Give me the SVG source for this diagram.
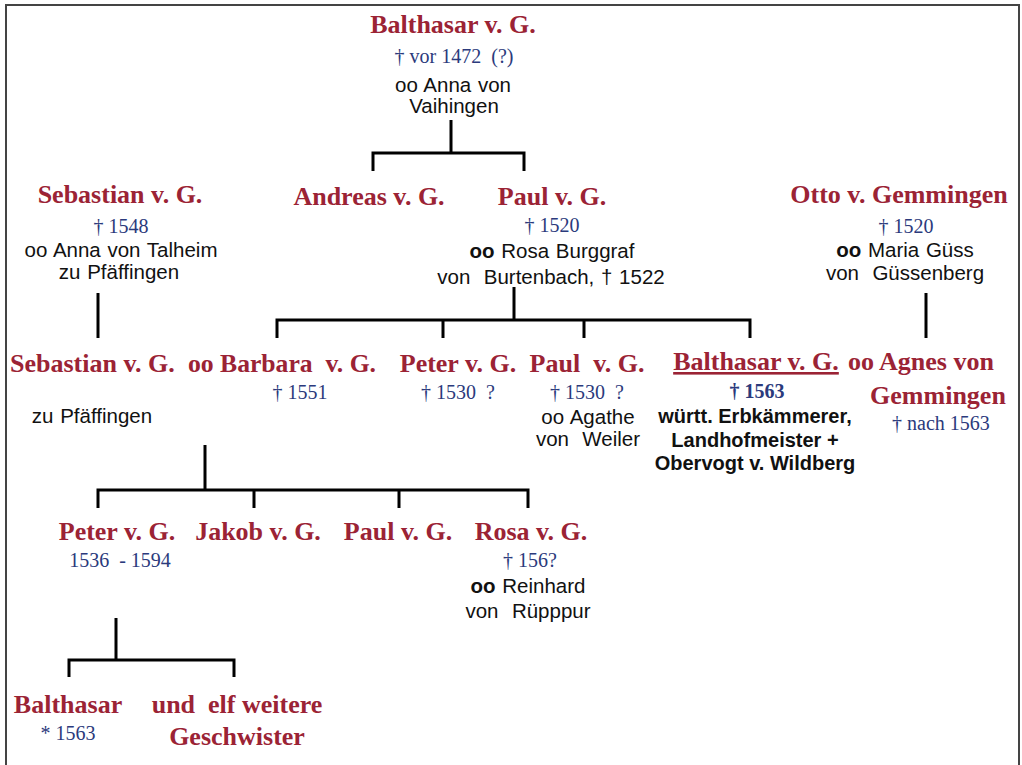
<svg xmlns="http://www.w3.org/2000/svg" width="1022" height="765" viewBox="0 0 1022 765">
<style>
.n{font-family:"Liberation Serif","Times New Roman",serif;font-weight:bold;font-size:26px;fill:#9b2335;text-anchor:middle}
.d{font-family:"Liberation Serif","Times New Roman",serif;font-size:20px;fill:#2b3a7c;text-anchor:middle}
.t{font-family:"Liberation Sans",Arial,sans-serif;font-size:20.5px;fill:#111;text-anchor:middle;word-spacing:1px}
.b{font-family:"Liberation Sans",Arial,sans-serif;font-size:20px;font-weight:bold;fill:#111;text-anchor:middle}
.c{fill:none;stroke:#000;stroke-width:3}
</style>
<rect width="1022" height="765" fill="#fff"/>
<path d="M6,765 V5 H1019 V765" fill="none" stroke="#444" stroke-width="2"/>
<g id="connectors">
<path class="c" d="M451,120 V153 M373,171 V153 H524 V171"/>
<path class="c" d="M98,293 V338"/>
<path class="c" d="M926,293 V338"/>
<path class="c" d="M514,287 V320 M277,338 V320 H750 V338 M443,320 V338 M584,320 V338"/>
<path class="c" d="M205,445 V490 M98,508 V490 H528 V508 M254,490 V508 M399,490 V508"/>
<path class="c" d="M116,618 V660 M69,677 V660 H234 V677"/>
</g>
<g id="balthasar-sen">
<text class="n" x="453" y="33">Balthasar v. G.</text>
<text class="d" x="454" y="63" xml:space="preserve">† vor 1472  (?)</text>
<text class="t" x="453" y="92">oo Anna von</text>
<text class="t" x="454" y="113">Vaihingen</text>
</g>
<g id="sebastian-sen">
<text class="n" x="120" y="203">Sebastian v. G.</text>
<text class="d" x="121" y="233">† 1548</text>
<text class="t" x="121" y="257">oo Anna von Talheim</text>
<text class="t" x="119" y="279">zu Pfäffingen</text>
</g>
<g id="andreas">
<text class="n" x="369" y="205">Andreas v. G.</text>
</g>
<g id="paul-sen">
<text class="n" x="552" y="205">Paul v. G.</text>
<text class="d" x="552" y="232">† 1520</text>
<text class="t" x="552" y="258"><tspan font-weight="bold">oo</tspan> Rosa Burggraf</text>
<text class="t" x="551" y="284" xml:space="preserve">von  Burtenbach, † 1522</text>
</g>
<g id="otto">
<text class="n" x="899" y="203">Otto v. Gemmingen</text>
<text class="d" x="906" y="233">† 1520</text>
<text class="t" x="905" y="257"><tspan font-weight="bold">oo</tspan> Maria Güss</text>
<text class="t" x="905" y="280" xml:space="preserve">von  Güssenberg</text>
</g>
<g id="sebastian">
<text class="n" x="10" y="372" style="text-anchor:start">Sebastian v. G.</text>
<text class="t" x="92" y="423">zu Pfäffingen</text>
</g>
<g id="barbara">
<text class="n" x="188" y="372" style="text-anchor:start" textLength="188" lengthAdjust="spacingAndGlyphs" xml:space="preserve">oo Barbara  v. G.</text>
<text class="d" x="300" y="399">† 1551</text>
</g>
<g id="peter-1">
<text class="n" x="458" y="372">Peter v. G.</text>
<text class="d" x="458" y="399" xml:space="preserve">† 1530  ?</text>
</g>
<g id="paul-1">
<text class="n" x="587" y="372" xml:space="preserve">Paul  v. G.</text>
<text class="d" x="587" y="399" xml:space="preserve">† 1530  ?</text>
<text class="t" x="588" y="424">oo Agathe</text>
<text class="t" x="588" y="446" xml:space="preserve">von  Weiler</text>
</g>
<g id="balthasar">
<text class="n" x="756" y="370" text-decoration="underline">Balthasar v. G.</text>
<text class="d" x="757" y="398" font-weight="bold">† 1563</text>
<text class="b" x="755" y="423">württ. Erbkämmerer,</text>
<text class="b" x="755" y="447">Landhofmeister +</text>
<text class="b" x="755" y="470">Obervogt v. Wildberg</text>
</g>
<g id="agnes">
<text class="n" x="921" y="370">oo Agnes von</text>
<text class="n" x="938" y="404">Gemmingen</text>
<text class="d" x="941" y="430">† nach 1563</text>
</g>
<g id="peter">
<text class="n" x="117" y="540">Peter v. G.</text>
<text class="d" x="120" y="567" xml:space="preserve">1536  - 1594</text>
</g>
<g id="jakob">
<text class="n" x="258" y="540">Jakob v. G.</text>
</g>
<g id="paul">
<text class="n" x="398" y="540">Paul v. G.</text>
</g>
<g id="rosa">
<text class="n" x="531" y="540">Rosa v. G.</text>
<text class="d" x="530" y="567">† 156?</text>
<text class="t" x="528" y="593"><tspan font-weight="bold">oo</tspan> Reinhard</text>
<text class="t" x="528" y="618" xml:space="preserve">von  Rüpppur</text>
</g>
<g id="balthasar-jun">
<text class="n" x="68" y="713">Balthasar</text>
<text class="d" x="68" y="740">* 1563</text>
</g>
<g id="geschwister">
<text class="n" x="237" y="713" xml:space="preserve">und  elf weitere</text>
<text class="n" x="237" y="745">Geschwister</text>
</g>
</svg>
